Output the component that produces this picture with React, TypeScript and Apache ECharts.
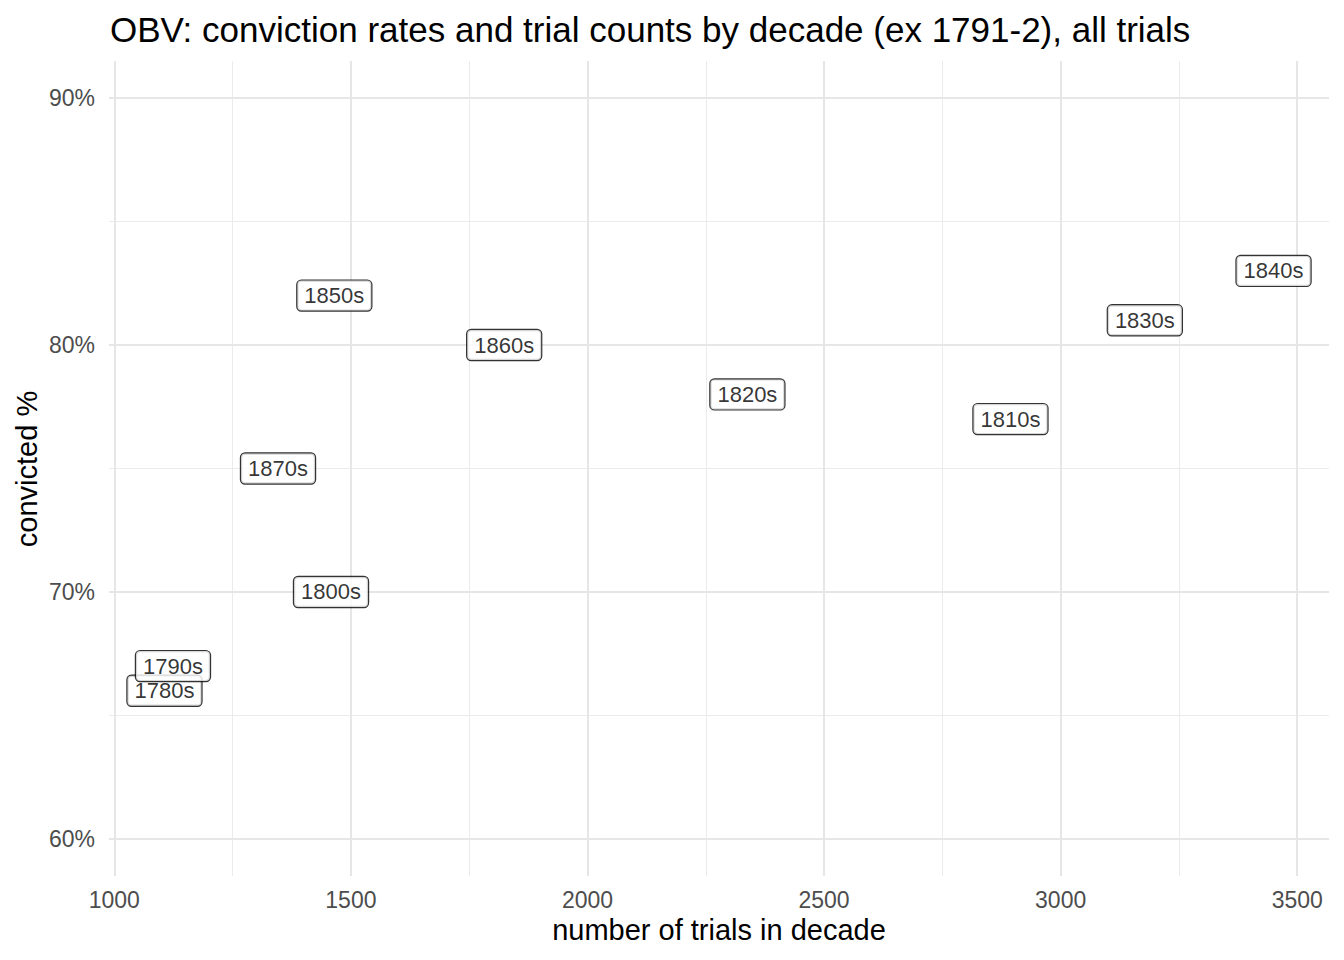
import React, { useEffect, useRef } from "react";
import * as echarts from "echarts";

// decades with number of trials and % convicted
const decades = ["1780s", "1790s", "1800s", "1810s", "1820s", "1830s", "1840s", "1850s", "1860s", "1870s"];
const trials = [1106, 1124, 1458, 2894, 2338, 3178, 3450, 1465, 1824, 1346];
const convicted = [66, 67, 70, 77, 78, 81, 83, 82, 80, 75];

const xMajor = [1000, 1500, 2000, 2500, 3000, 3500];
const xMinor = [1250, 1750, 2250, 2750, 3250];
const yMajor = [60, 70, 80, 90];
const yMinor = [65, 75, 85];

const FONT = "'Liberation Sans', Arial, Helvetica, sans-serif";

const App = () => {
  const chartRef = useRef<HTMLDivElement>(null);

  useEffect(() => {
    if (!chartRef.current) return;
    const chart = echarts.init(chartRef.current, undefined, { renderer: "svg" });

    // ggplot-style 5% expansion of the x data range; y limits fixed at 60-90
    const xLo = Math.min(...trials);
    const xHi = Math.max(...trials);
    const xPad = (xHi - xLo) * 0.05;
    const yPad = (90 - 60) * 0.05;

    const major = { color: "#e6e6e6", width: 2, type: "solid" };
    const minor = { color: "#ebebeb", width: 1, type: "solid" };

    chart.setOption({
      animation: false,
      textStyle: { fontFamily: FONT },
      grid: { left: 109, right: 15, top: 61, bottom: 84 },
      xAxis: {
        type: "value",
        min: xLo - xPad,
        max: xHi + xPad,
        axisLine: { show: false },
        axisTick: { show: false, customValues: xMajor },
        splitLine: { show: false },
        axisLabel: {
          customValues: xMajor,
          formatter: (v: number) => String(v),
          fontSize: 23,
          color: "#4d4d4d",
          fontFamily: FONT,
          margin: 12,
        },
      },
      yAxis: {
        type: "value",
        min: 60 - yPad,
        max: 90 + yPad,
        axisLine: { show: false },
        axisTick: { show: false, customValues: yMajor },
        splitLine: { show: false },
        axisLabel: {
          customValues: yMajor,
          formatter: (v: number) => `${v}%`,
          fontSize: 23,
          color: "#4d4d4d",
          fontFamily: FONT,
          margin: 14,
        },
      },
      graphic: [
        {
          type: "text",
          x: 110,
          y: 29,
          style: {
            text: "OBV: conviction rates and trial counts by decade (ex 1791-2), all trials",
            font: `35px ${FONT}`,
            fill: "#000",
            textVerticalAlign: "middle",
          },
        },
        {
          type: "text",
          x: 719,
          y: 930,
          style: {
            text: "number of trials in decade",
            font: `29px ${FONT}`,
            fill: "#000",
            textAlign: "center",
            textVerticalAlign: "middle",
          },
        },
        {
          type: "text",
          x: 27,
          y: 469,
          rotation: Math.PI / 2,
          style: {
            text: "convicted %",
            font: `29px ${FONT}`,
            fill: "#000",
            textAlign: "center",
            textVerticalAlign: "middle",
          },
        },
      ],
      series: [
        {
          type: "line",
          data: [],
          z: 1,
          markLine: {
            silent: true,
            symbol: ["none", "none"],
            label: { show: false },
            data: [
              ...xMinor.map((v) => ({ xAxis: v, lineStyle: minor })),
              ...yMinor.map((v) => ({ yAxis: v, lineStyle: minor })),
              ...xMajor.map((v) => ({ xAxis: v, lineStyle: major })),
              ...yMajor.map((v) => ({ yAxis: v, lineStyle: major })),
            ],
          },
        },
        {
          type: "scatter",
          z: 5,
          symbolSize: 1,
          itemStyle: { color: "rgba(0,0,0,0)" },
          data: trials.map((t, i) => ({ value: [t, convicted[i]], name: decades[i] })),
          label: {
            show: true,
            position: "inside",
            formatter: (p: any) => p.name,
            fontSize: 22,
            fontFamily: FONT,
            color: "#000",
            textBorderWidth: 0,
            backgroundColor: "#fff",
            borderColor: "#000",
            borderWidth: 1.2,
            borderRadius: 4,
            padding: [4, 7, 3, 7],
            lineHeight: 23,
          },
        },
      ],
    });
    return () => {
      chart.dispose();
    };
  }, []);

  return (
    <div
      ref={chartRef}
      style={{ position: "fixed", left: 0, top: 0, width: "1344px", height: "960px", background: "#fff" }}
      aria-label="Conviction rates and trial counts by decade"
    />
  );
};

export default App;
